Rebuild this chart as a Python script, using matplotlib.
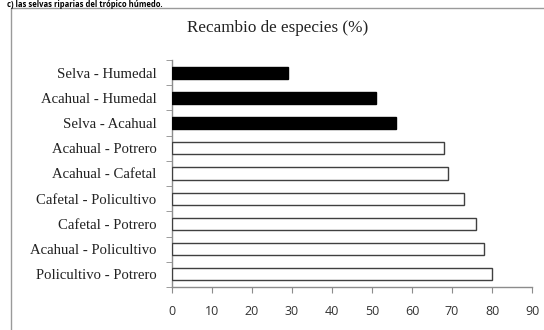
import matplotlib
matplotlib.use("Agg")
import matplotlib.pyplot as plt
from matplotlib.patches import Rectangle

# top -> bottom
PAIRS = ["Selva - Humedal", "Acahual - Humedal", "Selva - Acahual",
         "Acahual - Potrero", "Acahual - Cafetal", "Cafetal - Policultivo",
         "Cafetal - Potrero", "Acahual - Policultivo", "Policultivo - Potrero"]
RECAMBIO = [29, 51, 56, 68, 69, 73, 76, 78, 80]
FILLED = [True, True, True, False, False, False, False, False, False]
XTICKS = list(range(0, 91, 10))

SERIF = ["Liberation Serif", "DejaVu Serif"]
SANS = ["Open Sans", "Liberation Sans", "DejaVu Sans"]
GREY = "#8c8c8c"

fig = plt.figure(figsize=(5.44, 3.30), dpi=100)
# caption of the source page (clipped in the scan) and the chart-area frame
fig.text(0.012, 0.999, "c) las selvas riparias del trópico húmedo.", fontsize=5.5,
         fontweight="bold", family=SANS, va="top", ha="left")
fig.patches.append(Rectangle((11 / 544, -0.05), 1.2, 1 - 8 / 330 + 0.05,
                             transform=fig.transFigure, fill=False,
                             edgecolor="#9a9a9a", lw=1.0))

ax = fig.add_axes([172 / 544, 1 - 287 / 330, (532 - 172) / 544, (287 - 60) / 330])
ys = list(range(len(PAIRS)))[::-1]
for y, v, f in zip(ys, RECAMBIO, FILLED):
    ax.barh(y, v, height=0.48, color="black" if f else "white",
            edgecolor="black" if f else "#404040", lw=1.0, zorder=3)

ax.set_xlim(0, 90)
ax.set_ylim(-0.5, len(PAIRS) - 0.5)
ax.set_xticks(XTICKS)
ax.set_xticklabels([str(t) for t in XTICKS], family=SANS, fontsize=9, color="#333333")
ax.set_yticks(ys)
ax.set_yticklabels(PAIRS, family=SERIF, fontsize=10.6, color="#222222")
ax.set_yticks([y + 0.5 for y in range(-1, len(PAIRS))], minor=True)
ax.tick_params(axis="y", which="major", length=0, pad=11)
ax.tick_params(axis="y", which="minor", length=4, color=GREY, direction="out")
ax.tick_params(axis="x", length=4, color=GREY, direction="out", pad=9)
for s in ("top", "right"):
    ax.spines[s].set_visible(False)
for s in ("left", "bottom"):
    ax.spines[s].set_color(GREY)
    ax.spines[s].set_linewidth(1.0)

fig.text(278 / 544, 1 - 28 / 330, "Recambio de especies (%)", family=SERIF,
         fontsize=12.3, ha="center", va="center", color="#222222")

fig.savefig("out.png", dpi=100)
